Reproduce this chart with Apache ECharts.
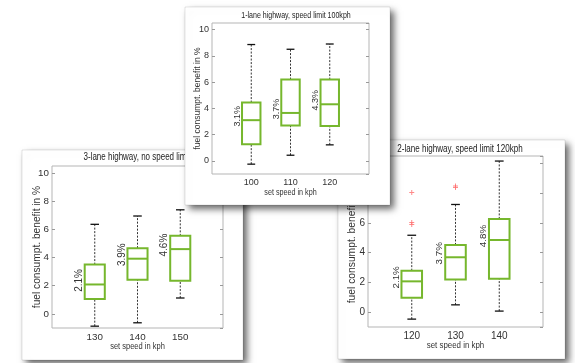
<!DOCTYPE html>
<html><head><meta charset="utf-8">
<script src="https://cdn.jsdelivr.net/npm/echarts@6/dist/echarts.min.js"></script>
<style>html,body{margin:0;padding:0;background:#fff}#c{width:575px;height:363px}</style>
</head><body><div id="c"></div>
<script>
// ---------- data ----------
const yAxisName = 'fuel consumpt. benefit in %';
const xAxisName = 'set speed in kph';

// 3-lane highway, no speed limit
const title3 = '3-lane highway, no speed limit';
const speeds3 = ['130', '140', '150'];
const low3  = [-0.87, -0.63, 1.13];
const q1_3  = [1.06, 2.42, 2.35];
const med3  = [2.09, 3.92, 4.60];
const q3_3  = [3.50, 4.67, 5.54];
const high3 = [6.36, 6.95, 7.39];
const pct3  = ['2.1%', '3.9%', '4.6%'];

// 2-lane highway, speed limit 120kph
const title2 = '2-lane highway, speed limit 120kph';
const speeds2 = ['120', '130', '140'];
const low2  = [-0.47, 0.49, 0.07];
const q1_2  = [0.97, 2.20, 2.25];
const med2  = [2.07, 3.69, 4.85];
const q3_2  = [2.79, 4.52, 6.27];
const high2 = [5.17, 7.24, 10.16];
const pct2  = ['2.1%', '3.7%', '4.8%'];
const outSpeed2 = ['120', '120', '120', '130', '130'];
const outVal2   = [8.04, 6.02, 5.89, 8.49, 8.38];

// 1-lane highway, speed limit 100kph
const title1 = '1-lane highway, speed limit 100kph';
const speeds1 = ['100', '110', '120'];
const low1  = [-0.25, 0.43, 1.22];
const q1_1  = [1.27, 2.69, 2.66];
const med1  = [3.10, 3.65, 4.31];
const q3_1  = [4.44, 6.19, 6.19];
const high1 = [8.86, 8.50, 8.90];
const pct1  = ['3.1%', '3.7%', '4.3%'];

// ---------- layout / style ----------
function hasFont(f) {
  const c = document.createElement('canvas').getContext('2d');
  c.font = '40px monospace';
  const w0 = c.measureText('abcdefghij0123').width;
  c.font = "40px '" + f + "', monospace";
  return c.measureText('abcdefghij0123').width !== w0;
}
const REG = "'Liberation Sans', Arial, sans-serif";
const haveNarrow = hasFont('Liberation Sans Narrow');
const TICKFONT = haveNarrow ? "'Liberation Sans Narrow', sans-serif" : REG;
const TICKSCALE = haveNarrow ? 1.05 : 1;
const GREEN = '#76b72d';
const TEXT = '#333';
const SQUEEZE = 0.8;

// f: [title, xName, yName, ticks, pct]
const panels = [
  { title: title3, cats: speeds3, low: low3, q1: q1_3, med: med3, q3: q3_3, high: high3, pct: pct3,
    outCats: [], outVals: [],
    card: [22, 150, 221, 210], grid: [52, 166, 171, 162], tx: 137, ty: 157, zl: 0,
    f: [10, 9.4, 10.2, 9.8, 10], nameGap: 10, pctGap: 5.5 },
  { title: title2, cats: speeds2, low: low2, q1: q1_2, med: med2, q3: q3_2, high: high2, pct: pct2,
    outCats: outSpeed2, outVals: outVal2,
    card: [338, 140, 227, 219], grid: [368, 156, 175, 171], tx: 460, ty: 149, zl: 0,
    f: [10.1, 9.9, 10.3, 10, 9.8], nameGap: 11, pctGap: 5.5 },
  { title: title1, cats: speeds1, low: low1, q1: q1_1, med: med1, q3: q3_1, high: high1, pct: pct1,
    outCats: [], outVals: [],
    card: [185, 7, 205, 198], grid: [212, 23, 157, 151], tx: 296, ty: 16, zl: 1,
    f: [8.8, 9, 8.5, 9, 9], nameGap: 10, pctGap: 5 }
];

const grids = [], xAxes = [], yAxes = [], series = [], graphics = [];

panels.forEach((p, k) => {
  const zl = p.zl;
  const g = p.grid;
  const f = p.f;
  graphics.push({
    type: 'rect', zlevel: zl, z: 0,
    shape: { x: p.card[0], y: p.card[1], width: p.card[2], height: p.card[3] },
    style: { fill: '#fff', stroke: 'rgba(0,0,0,0.10)', lineWidth: 1,
             shadowColor: 'rgba(0,0,0,0.6)', shadowBlur: 7, shadowOffsetX: 4, shadowOffsetY: 4 }
  });
  graphics.push({
    type: 'text', zlevel: zl, z: 5, x: p.tx, y: p.ty, scaleX: SQUEEZE,
    style: { text: p.title, fill: '#222', font: f[0] + 'px ' + REG, align: 'center', verticalAlign: 'middle' }
  });
  graphics.push({
    type: 'text', zlevel: zl, z: 5, x: g[0] + g[2] / 2, y: g[1] + g[3] + 18.5, scaleX: SQUEEZE,
    style: { text: xAxisName, fill: TEXT, font: f[1] + 'px ' + REG, align: 'center', verticalAlign: 'middle' }
  });
  grids.push({ left: g[0], top: g[1], width: g[2], height: g[3],
    show: true, borderColor: '#b5b5b5', borderWidth: 1, backgroundColor: '#fff', zlevel: zl, z: 1 });
  const catData = [''].concat(p.cats).concat(['']);
  xAxes.push({ type: 'category', gridIndex: k, data: catData, boundaryGap: false, zlevel: zl, z: 2,
    axisLine: { show: false }, axisTick: { show: false },
    axisLabel: { color: TEXT, fontSize: f[3] * TICKSCALE, fontFamily: TICKFONT, margin: 4 },
    splitLine: { show: false } });
  const yBase = { type: 'value', gridIndex: k, min: -1, max: 10.5, splitNumber: 5, zlevel: zl, z: 2,
    axisLine: { show: false }, splitLine: { show: false },
    axisTick: { show: true, inside: true, length: 3, lineStyle: { color: '#999' } } };
  yAxes.push(Object.assign({}, yBase, { position: 'left',
    axisLabel: { showMinLabel: false, showMaxLabel: false, color: TEXT, fontSize: f[3] * TICKSCALE, fontFamily: TICKFONT, margin: 3 },
    name: yAxisName, nameLocation: 'middle', nameGap: p.nameGap, nameMoveOverlap: false,
    nameTextStyle: { color: TEXT, fontSize: f[2], fontFamily: REG } }));
  yAxes.push(Object.assign({}, yBase, { position: 'right', axisLabel: { show: false } }));

  const data = p.cats.map((c, i) => [i + 1, p.low[i], p.q1[i], p.med[i], p.q3[i], p.high[i]]);
  series.push({
    type: 'custom', xAxisIndex: k, yAxisIndex: 2 * k, zlevel: zl, z: 3,
    encode: { x: 0, y: [1, 2, 3, 4, 5] },
    data: data,
    renderItem: function (params, api) {
      const xi = api.value(0);
      const lo = api.coord([xi, api.value(1)]);
      const a = api.coord([xi, api.value(2)]);
      const m = api.coord([xi, api.value(3)]);
      const b = api.coord([xi, api.value(4)]);
      const hi = api.coord([xi, api.value(5)]);
      const band = api.size([1, 0])[0];
      const w = band * 0.47, cw = band * 0.2;
      const x = m[0];
      const dash = { stroke: '#333', lineWidth: 1, lineDash: [2, 1.5] };
      const cap = { stroke: '#111', lineWidth: 1.3 };
      return { type: 'group', children: [
        { type: 'line', shape: { x1: x, y1: lo[1], x2: x, y2: a[1] }, style: dash },
        { type: 'line', shape: { x1: x, y1: b[1], x2: x, y2: hi[1] }, style: dash },
        { type: 'line', shape: { x1: x - cw / 2, y1: lo[1], x2: x + cw / 2, y2: lo[1] }, style: cap },
        { type: 'line', shape: { x1: x - cw / 2, y1: hi[1], x2: x + cw / 2, y2: hi[1] }, style: cap },
        { type: 'rect', shape: { x: x - w / 2, y: b[1], width: w, height: a[1] - b[1] },
          style: { fill: '#fff', stroke: GREEN, lineWidth: 2 } },
        { type: 'line', shape: { x1: x - w / 2, y1: m[1], x2: x + w / 2, y2: m[1] },
          style: { stroke: GREEN, lineWidth: 2 } },
        { type: 'text', x: x - w / 2 - p.pctGap, y: m[1] - 4, rotation: Math.PI / 2,
          style: { text: p.pct[params.dataIndex], fill: TEXT, font: f[4] + 'px ' + REG,
                   align: 'center', verticalAlign: 'middle' } }
      ] };
    }
  });
  if (p.outVals.length) {
    series.push({
      type: 'scatter', xAxisIndex: k, yAxisIndex: 2 * k, zlevel: zl, z: 4,
      symbol: 'path://M4,0H6V4H10V6H6V10H4V6H0V4H4Z', symbolSize: 5,
      itemStyle: { color: '#ff6b6b' },
      data: p.outVals.map((v, i) => [p.cats.indexOf(p.outCats[i]) + 1, v])
    });
  }
});

const chart = echarts.init(document.getElementById('c'), null, { renderer: 'canvas' });
chart.setOption({
  animation: false,
  backgroundColor: '#fff',
  graphic: { elements: graphics },
  grid: grids, xAxis: xAxes, yAxis: yAxes, series: series
});
</script></body></html>
